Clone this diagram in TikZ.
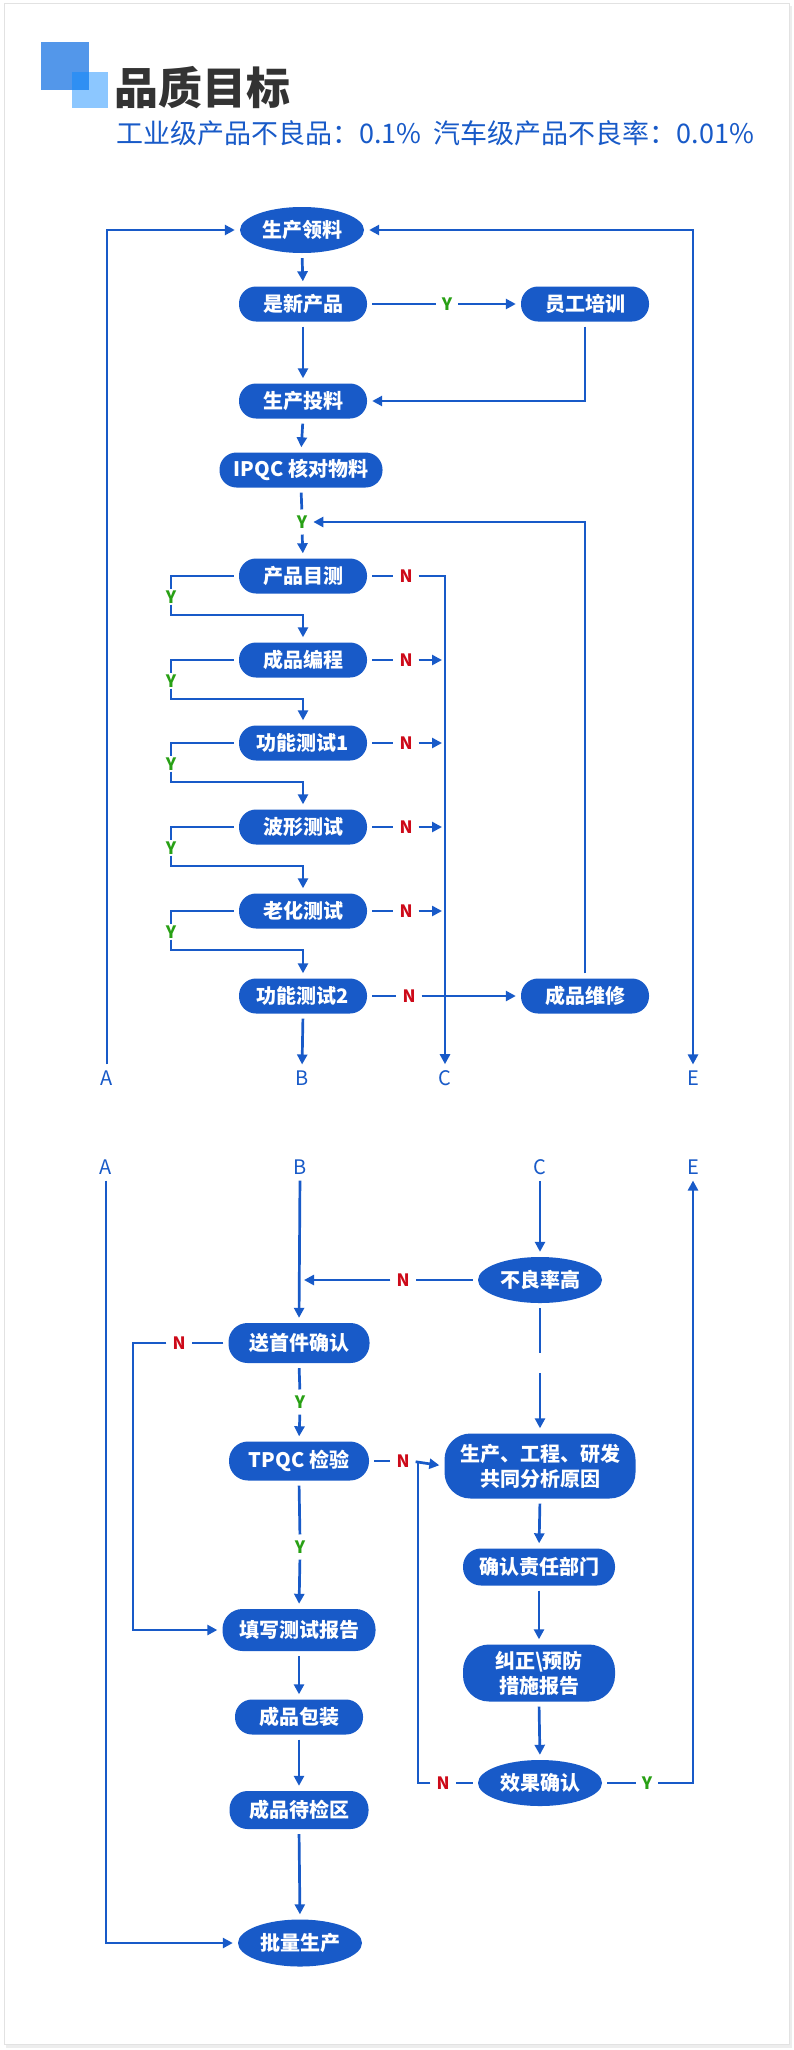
\documentclass[tikz,border=0pt]{standalone}
\usepackage{fontspec}
\setmainfont{Noto Sans CJK SC}
\usetikzlibrary{arrows.meta,shapes.geometric,calc}
\definecolor{fblue}{RGB}{24,90,200}
\definecolor{sqdark}{RGB}{83,151,234}
\definecolor{sqlight}{RGB}{5,135,255}
\definecolor{titlegray}{RGB}{51,51,51}
\definecolor{ygreen}{RGB}{40,160,20}
\definecolor{nred}{RGB}{205,10,25}
\definecolor{framegray}{RGB}{226,226,226}
\tikzset{
  nodetext/.style={text=white, font=\fontsize{20}{24}\selectfont\bfseries},
  box/.style={nodetext, rectangle, rounded corners=17pt, fill=fblue, minimum width=128pt, minimum height=35pt, inner sep=0pt},
  tallbox/.style={box, rounded corners=26pt, align=center, font=\fontsize{20}{25}\selectfont\bfseries},
  ell/.style={nodetext, ellipse, fill=fblue, minimum width=124pt, minimum height=46pt, inner sep=0pt},
  link/.style={draw=fblue, line width=2.7pt, shorten <=5pt, shorten >=5pt},
  arr/.style={link, -{Triangle[length=10pt,width=10pt]}},
  arrboth/.style={link, {Triangle[length=10pt,width=10pt]}-{Triangle[length=10pt,width=10pt]}},
  ylab/.style={text=ygreen, font=\fontsize{17}{19}\selectfont\bfseries, inner sep=1pt},
  nlab/.style={text=nred, font=\fontsize{17}{19}\selectfont\bfseries, inner sep=1pt},
  port/.style={text=fblue, font=\fontsize{20}{22}\selectfont, inner sep=1pt},
}
\begin{document}
\begin{tikzpicture}[x=1pt,y=-1pt]
\useasboundingbox (0,0) rectangle (793,2050);
% card
\fill[white] (0,0) rectangle (793,2050);
\fill[black!7] (6,6) rectangle (792,2048);
\filldraw[fill=white, draw=framegray, line width=0.8pt] (4,3) rectangle (789,2044);
% header
\fill[sqdark] (41,42) rectangle (89,90);
\fill[sqlight, opacity=0.46] (72,72) rectangle (108,108);
\node[anchor=west, inner sep=0pt, text=titlegray, font=\fontsize{44}{48}\selectfont\bfseries] (title) at (114,88) {品质目标};
\node[anchor=west, inner sep=0pt, text=fblue, font=\fontsize{27}{30}\selectfont] (sub) at (116,133) {工业级产品不良品：0.1\%\hspace{0.45em}汽车级产品不良率：0.01\%};

% ---------- upper part ----------
\node[ell] (n1) at (302,230) {生产领料};
\node[box] (n2) at (303,304) {是新产品};
\node[box] (n3) at (585,304) {员工培训};
\node[box] (n4) at (303,401) {生产投料};
\node[box, minimum width=163pt] (n5) at (301,470) {IPQC 核对物料};
\node[ylab] (y0) at (302,522) {Y};
\node[box] (n6) at (303,576) {产品目测};
\node[box] (n7) at (303,660) {成品编程};
\node[box] (n8) at (303,743) {功能测试1};
\node[box] (n9) at (303,827) {波形测试};
\node[box] (n10) at (303,911) {老化测试};
\node[box] (n11) at (303,996) {功能测试2};
\node[box] (n12) at (585,996) {成品维修};
\node[port] (A1) at (107,1078) {A};
\node[port] (B1) at (302,1078) {B};
\node[port] (C1) at (445,1078) {C};
\node[port] (E1) at (693,1078) {E};

\draw[arr] (A1.north) |- (n1.west);
\draw[arrboth] (n1.east) -| (E1.north);
\draw[arr] (n1.south) -- (n2.north);
\node[ylab] (y1) at (447,304) {Y};
\draw[link] (n2.east) -- (y1.west);
\draw[arr] (y1.east) -- (n3.west);
\draw[arr] (n2.south) -- (n4.north);
\draw[arr] (n3.south) |- (n4.east);
\draw[arr] (n4.south) -- (n5.north);
\draw[link] (n5.south) -- (y0.north);
\draw[arr] (y0.south) -- (n6.north);
\draw[arr] (n12.north) |- (y0.east);

% N branches to C
\node[nlab] (nl6) at (406,576) {N};
\draw[link] (n6.east) -- (nl6.west);
\draw[arr] (nl6.east) -| (C1.north);
\coordinate (cline) at (445,600);
\foreach \a in {n7,n8,n9,n10}{
  \node[nlab] (nl\a) at ($(\a.center)+(103,0)$) {N};
  \draw[link] (\a.east) -- (nl\a.west);
  \draw[arr, shorten >=3pt] (nl\a.east) -- (nl\a.east -| cline);
}
\node[nlab] (nl11) at (409,996) {N};
\draw[link] (n11.east) -- (nl11.west);
\draw[arr] (nl11.east) -- (n12.west);
\draw[arr] (n11.south) -- (B1.north);

% Y loops
\foreach \a/\b in {n6/n7,n7/n8,n8/n9,n9/n10,n10/n11}{
  \node[ylab] (yl\a) at ($(\a.center)+(-132,21)$) {Y};
  \coordinate (yc\a) at ($(\a.center)+(0,39)$);
  \draw[link, shorten >=0pt] (\a.west) -| (yl\a.north);
  \draw[arr, shorten <=0pt] (yl\a.south) |- (yc\a) -- (\b.north);
}

% ---------- lower part ----------
\node[port] (A2) at (106,1167) {A};
\node[port] (B2) at (300,1167) {B};
\node[port] (C2) at (540,1167) {C};
\node[port] (E2) at (693,1167) {E};
\node[ell] (m1) at (540,1280) {不良率高};
\node[box, minimum width=141pt, minimum height=40pt, rounded corners=19pt] (m2) at (299,1343) {送首件确认};
\node[box, minimum width=140pt, minimum height=39pt, rounded corners=19pt] (m3) at (299,1461) {TPQC 检验};
\node[tallbox, minimum width=191pt, minimum height=65pt] (m4) at (540,1466) {生产、工程、研发\\共同分析原因};
\node[box, minimum width=152pt, minimum height=37pt, rounded corners=18pt] (m5) at (539,1567) {确认责任部门};
\node[tallbox, minimum width=152pt, minimum height=57pt] (m6) at (539,1673) {纠正\textbackslash 预防\\措施报告};
\node[ell] (m7) at (540,1783) {效果确认};
\node[box, minimum width=153pt, minimum height=42pt, rounded corners=20pt] (m8) at (299,1630) {填写测试报告};
\node[box, minimum width=128pt] (m9) at (299,1717) {成品包装};
\node[box, minimum width=139pt, minimum height=38pt, rounded corners=18pt] (m10) at (299,1810) {成品待检区};
\node[ell, minimum height=47pt] (m11) at (300,1943) {批量生产};

\draw[arr] (A2.south) |- (m11.west);
\draw[arr] (B2.south) -- (m2.north);
\draw[arr] (C2.south) -- (m1.north);
% 不良率高 -> N -> B line
\node[nlab] (nm1) at (403,1280) {N};
\draw[link] (m1.west) -- (nm1.east);
\draw[arr, shorten >=4pt] (nm1.west) -- (nm1.west -| B2.south);
% 不良率高 -> analysis (broken line)
\coordinate (g1) at (540,1353);
\coordinate (g2) at (540,1373);
\draw[link, shorten >=0pt] (m1.south) -- (g1);
\draw[arr, shorten <=0pt] (g2) -- (m4.north);
% 送首件确认
\node[nlab] (nm2) at (179,1343) {N};
\coordinate (lk) at (133,1343);
\draw[link] (m2.west) -- (nm2.east);
\draw[arr] (nm2.west) -- (lk) |- (m8.west);
\node[ylab] (ym2) at (300,1402) {Y};
\draw[link] (m2.south) -- (ym2.north);
\draw[arr] (ym2.south) -- (m3.north);
% TPQC
\node[nlab] (nm3) at (403,1461) {N};
\draw[link] (m3.east) -- (nm3.west);
\draw[arr] (nm3.east) -- (m4.west);
\node[ylab] (ym3) at (300,1547) {Y};
\draw[link] (m3.south) -- (ym3.north);
\draw[arr] (ym3.south) -- (m8.north);
% right column
\draw[arr] (m4.south) -- (m5.north);
\draw[arr] (m5.south) -- (m6.north);
\draw[arr] (m6.south) -- (m7.north);
\node[nlab] (nm7) at (443,1783) {N};
\coordinate (jn) at (418,1461);
\draw[link] (m7.west) -- (nm7.east);
\draw[link, shorten >=0pt] (nm7.west) -| (jn);
\node[ylab] (ym7) at (647,1783) {Y};
\draw[link] (m7.east) -- (ym7.west);
\draw[arr] (ym7.east) -| (E2.south);
% left column
\draw[arr] (m8.south) -- (m9.north);
\draw[arr] (m9.south) -- (m10.north);
\draw[arr] (m10.south) -- (m11.north);
\end{tikzpicture}
\end{document}
